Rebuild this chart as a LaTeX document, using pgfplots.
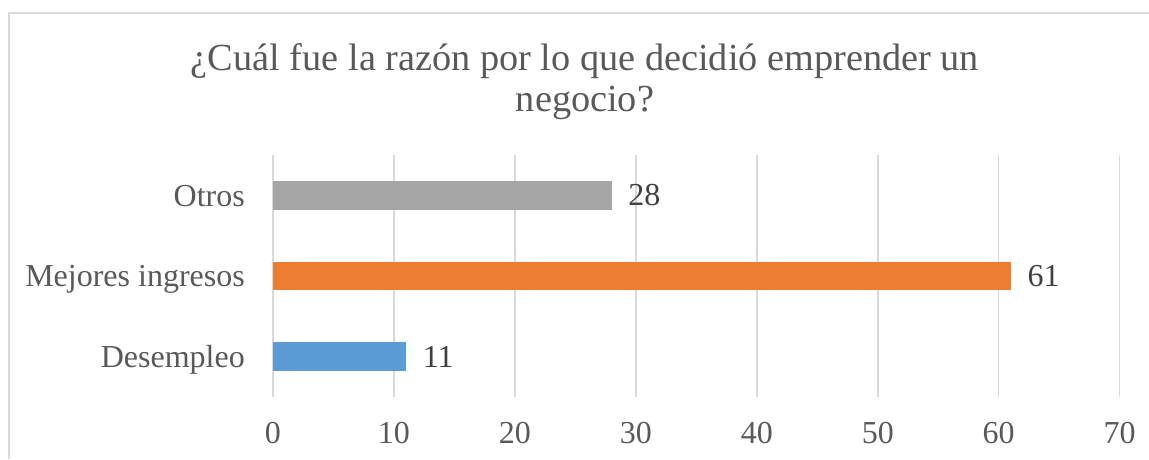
\documentclass[border=0pt]{standalone}
\usepackage{pgfplots}
\pgfplotsset{compat=1.18}
\usepackage{fontspec}
\setmainfont{Liberation Serif}
\definecolor{bblue}{HTML}{5B9BD5}
\definecolor{borange}{HTML}{ED7D31}
\definecolor{bgray}{HTML}{A5A5A5}
\definecolor{gridgray}{HTML}{D9D9D9}
\definecolor{txtgray}{HTML}{595959}
\definecolor{lblgray}{HTML}{404040}
\begin{document}
\begin{tikzpicture}
\useasboundingbox (0pt,0pt) rectangle (1149pt,-459pt);
\draw[color=gridgray, line width=1.5pt] (1149pt,-13pt) -- (9pt,-13pt) -- (9pt,-459pt);
\node[font=\fontsize{38.3}{44}\selectfont, text=txtgray, anchor=base, inner sep=0pt] at (585pt,-70pt) {¿Cuál fue la razón por lo que decidió emprender un};
\node[font=\fontsize{38.3}{44}\selectfont, text=txtgray, anchor=base, inner sep=0pt] at (585pt,-111.5pt) {negocio?};
\begin{axis}[
  at={(273pt,-396.7pt)}, anchor=south west,
  width=846.7pt, height=241.5pt, scale only axis,
  xmin=0, xmax=70, ymin=-0.5, ymax=2.5,
  xtick={0,10,...,70}, ytick={0,1,2},
  yticklabels={Desempleo,Mejores ingresos,Otros},
  xbar, bar width=28.4pt,
  axis line style={draw=none},
  xmajorgrids, grid style={color=gridgray, line width=1.5pt},
  major tick length=0pt, tick style={draw=none},
  /pgf/number format/assume math mode=true,
  xticklabel style={anchor=north, inner sep=0pt, yshift=-25pt, font=\fontsize{32}{37}\selectfont, text=txtgray},
  yticklabel style={anchor=base east, inner sep=0pt, xshift=-28pt, yshift=-10.8pt, font=\fontsize{32}{37}\selectfont, text=txtgray},
  nodes near coords,
  nodes near coords style={anchor=west, inner sep=0pt, xshift=16.5pt, font=\fontsize{32}{37}\selectfont, text=lblgray},
]
\addplot[fill=bblue, draw=none, bar shift=0pt] coordinates {(11,0)};
\addplot[fill=borange, draw=none, bar shift=0pt] coordinates {(61,1)};
\addplot[fill=bgray, draw=none, bar shift=0pt] coordinates {(28,2)};
\end{axis}
\end{tikzpicture}
\end{document}
